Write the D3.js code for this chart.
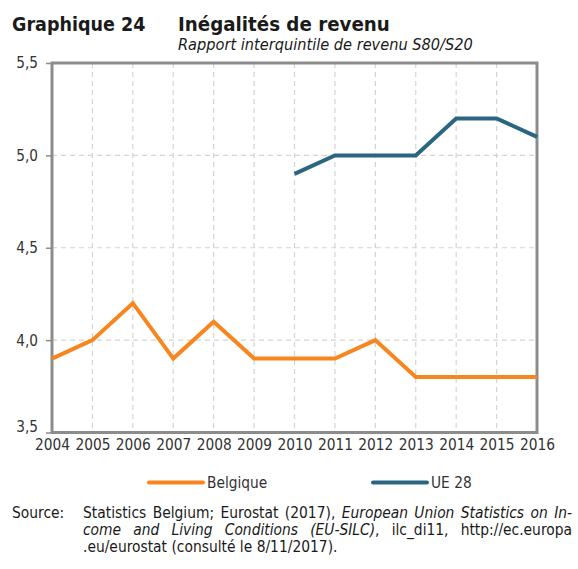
<!DOCTYPE html>
<html><head><meta charset="utf-8">
<script src="https://cdn.jsdelivr.net/npm/d3@7"></script>
<style>body{margin:0;background:#fff}svg{display:block}text{font-family:"DejaVu Sans Condensed","DejaVu Sans",sans-serif}</style>
</head><body>
<svg id="c" width="578" height="569"></svg>
<script>
const years = [2004,2005,2006,2007,2008,2009,2010,2011,2012,2013,2014,2015,2016];
const belgique = [3.9,4.0,4.2,3.9,4.1,3.9,3.9,3.9,4.0,3.8,3.8,3.8,3.8];
const ue28Years = [2010,2011,2012,2013,2014,2015,2016];
const ue28 = [4.9,5.0,5.0,5.0,5.2,5.2,5.1];
const yTicks = [3.5,4.0,4.5,5.0,5.5];
const seriesNames = ["Belgique","UE 28"];
const colors = ["#f7861f","#2a6680"];

const svg = d3.select("#c");
const L=52, R=537, T=63, B=432.5;
const x = d3.scaleLinear().domain([2004,2016]).range([L,R]);
const y = d3.scaleLinear().domain([3.5,5.5]).range([B,T]);
const fmt = d => d.toFixed(1).replace(".",",");

// title
svg.append("text").attr("x",12).attr("y",30.5).attr("font-size",19.5).attr("font-weight","bold").attr("fill","#1a1a1a").text("Graphique 24");
svg.append("text").attr("x",178).attr("y",30.5).attr("font-size",20.3).attr("font-weight","bold").attr("fill","#1a1a1a").text("Inégalités de revenu");
svg.append("text").attr("x",178).attr("y",50).attr("font-size",16.2).attr("font-style","italic").attr("fill","#1a1a1a").text("Rapport interquintile de revenu S80/S20");

// grid
const g = svg.append("g");
g.selectAll(".hg").data(yTicks.slice(1,-1)).join("line")
  .attr("x1",L).attr("x2",R).attr("y1",d=>y(d)).attr("y2",d=>y(d))
  .attr("stroke","#d4d4d4").attr("stroke-width",1.2).attr("stroke-dasharray","5,4");
g.selectAll(".vg").data(years.slice(1,-1)).join("line")
  .attr("x1",d=>x(d)).attr("x2",d=>x(d)).attr("y1",T).attr("y2",B)
  .attr("stroke","#d4d4d4").attr("stroke-width",1.2).attr("stroke-dasharray","5,4");

// axes
const yAxis = d3.axisLeft(y).tickValues(yTicks).tickFormat(fmt).tickSize(6).tickPadding(8);
const ya = svg.append("g").attr("transform",`translate(${L},0)`).call(yAxis);
ya.select(".domain").remove();
ya.selectAll("line").attr("stroke","#8c8c8c").attr("stroke-width",1.5);
ya.selectAll("text").attr("font-size",15.2).attr("fill","#333").attr("font-family","DejaVu Sans Condensed");
ya.selectAll(".tick").filter(d=>d===3.5).select("text").attr("dy","-0.08em");

const xAxis = d3.axisBottom(x).tickValues(years).tickFormat(d3.format("d")).tickSize(0).tickPadding(7);
const xa = svg.append("g").attr("transform",`translate(0,${B})`).call(xAxis);
xa.select(".domain").remove();
xa.selectAll("text").attr("font-size",15.3).attr("fill","#333").attr("font-family","DejaVu Sans Condensed");

// frame
svg.append("rect").attr("x",L).attr("y",T).attr("width",R-L).attr("height",B-T)
  .attr("fill","none").attr("stroke","#8c8c8c").attr("stroke-width",3);

// lines
const line = d3.line().x(d=>x(d[0])).y(d=>y(d[1]));
svg.append("path").datum(years.map((yr,i)=>[yr,belgique[i]])).attr("d",line)
  .attr("fill","none").attr("stroke",colors[0]).attr("stroke-width",4);
svg.append("path").datum(ue28Years.map((yr,i)=>[yr,ue28[i]])).attr("d",line)
  .attr("fill","none").attr("stroke",colors[1]).attr("stroke-width",4);

// legend
const leg = [{x:149,name:seriesNames[0],c:colors[0]},{x:373,name:seriesNames[1],c:colors[1]}];
leg.forEach(l=>{
  svg.append("line").attr("x1",l.x).attr("x2",l.x+54).attr("y1",482.5).attr("y2",482.5).attr("stroke",l.c).attr("stroke-width",4).attr("stroke-linecap","round");
  svg.append("text").attr("x",l.x+58).attr("y",488).attr("font-size",15.3).attr("fill","#333").text(l.name);
});

// source
const fs = 15.4;
svg.append("text").attr("x",12).attr("y",518).attr("font-size",fs).attr("fill","#1a1a1a").text("Source:");
function srcLine(segs, y0, target){
  const els = segs.map(s => svg.append("text").attr("y",y0).attr("font-size",fs).attr("fill","#1a1a1a")
    .attr("font-style", s[1] ? "italic" : "normal").attr("xml:space","preserve").text(s[0]));
  let widths = els.map(e => e.node().getComputedTextLength());
  const total = d3.sum(widths);
  if (target && total > target) {
    const k = target/total;
    els.forEach((e,i)=>{ widths[i]*=k; e.attr("textLength",widths[i]).attr("lengthAdjust","spacingAndGlyphs"); });
  }
  const spaces = d3.sum(segs, s => (s[0].match(/ /g)||[]).length);
  const ws = (target && total < target && spaces) ? (target-total)/spaces : 0;
  let cx = 83;
  els.forEach((e,i) => {
    e.attr("x",cx).attr("word-spacing",ws);
    cx += widths[i] + ws*(segs[i][0].match(/ /g)||[]).length;
  });
}
srcLine([["Statistics Belgium; Eurostat (2017), ",false],["European Union Statistics on In-",true]], 518, 489);
srcLine([["come and Living Conditions (EU-SILC)",true],[", ilc_di11, http://ec.europa",false]], 535, 489);
srcLine([[".eu/eurostat (consulté le 8/11/2017).",false]], 552, 0);
</script>
</body></html>
